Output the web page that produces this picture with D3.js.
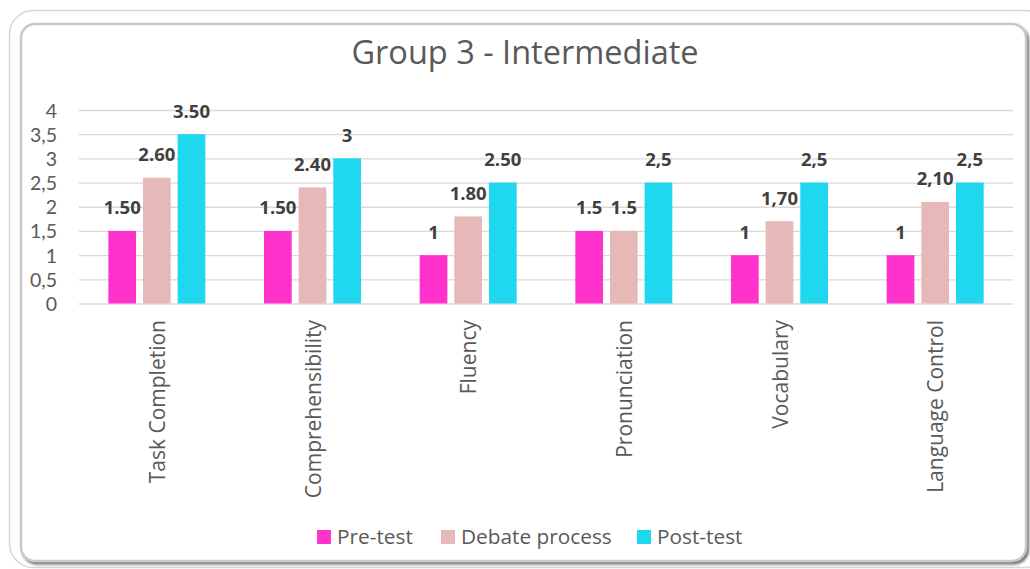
<!DOCTYPE html>
<html>
<head>
<meta charset="utf-8">
<script src="https://cdn.jsdelivr.net/npm/d3@7"></script>
<style>
  html, body { margin: 0; padding: 0; background: #fff; }
  svg { display: block; }
  text { font-family: "Open Sans", Lato, sans-serif; }
</style>
</head>
<body>
<svg id="chart" width="1030" height="569"></svg>
<script>
// Categories and series
const categories = ["Task Completion", "Comprehensibility", "Fluency", "Pronunciation", "Vocabulary", "Language Control"];
const seriesNames = ["Pre-test", "Debate process", "Post-test"];
const preTest = [1.5, 1.5, 1, 1.5, 1, 1];
const debateProcess = [2.6, 2.4, 1.8, 1.5, 1.7, 2.1];
const postTest = [3.5, 3, 2.5, 2.5, 2.5, 2.5];
// Data labels as printed above each bar
const preTestLabels = ["1.50", "1.50", "1", "1.5", "1", "1"];
const debateLabels = ["2.60", "2.40", "1.80", "1.5", "1,70", "2,10"];
const postTestLabels = ["3.50", "3", "2.50", "2,5", "2,5", "2,5"];
const yTicks = [0, 0.5, 1, 1.5, 2, 2.5, 3, 3.5, 4];
const colors = ["#FF33CC", "#E6B8B7", "#1FD7EF"];
const title = "Group 3 - Intermediate";

const seriesValues = [preTest, debateProcess, postTest];
const seriesLabels = [preTestLabels, debateLabels, postTestLabels];

const svg = d3.select("#chart");

// ----- Frame -----
const defs = svg.append("defs");
const sh = defs.append("filter").attr("id", "shadow")
  .attr("x", "-5%").attr("y", "-5%").attr("width", "110%").attr("height", "110%");
sh.append("feDropShadow").attr("dx", 2).attr("dy", 2.5).attr("stdDeviation", 1.2)
  .attr("flood-color", "#6e6e6e").attr("flood-opacity", 0.9);

svg.append("rect")
  .attr("x", 9.5).attr("y", 10.5).attr("width", 1040).attr("height", 557)
  .attr("rx", 24).attr("fill", "#fff")
  .attr("stroke", "#d6d6d6").attr("stroke-width", 1.5);

svg.append("rect")
  .attr("x", 21).attr("y", 24).attr("width", 1005).attr("height", 537)
  .attr("rx", 14).attr("fill", "#fff")
  .attr("stroke", "#c9c9c9").attr("stroke-width", 2.5)
  .attr("filter", "url(#shadow)");

// ----- Scales -----
const margin = { left: 79, right: 1013, top: 110, bottom: 303.5 };
const x0 = d3.scaleBand().domain(categories).range([margin.left, margin.right])
  .paddingInner(0.377).paddingOuter(0.1885);
const x1 = d3.scaleBand().domain(seriesNames).range([0, x0.bandwidth()]).paddingInner(0.2);
const y = d3.scaleLinear().domain([0, 4]).range([margin.bottom, margin.top]);

const locale = d3.formatLocale({ decimal: ",", thousands: ".", grouping: [3], currency: ["", ""] });
const fmt = locale.format("~g");

// ----- Gridlines and y axis -----
const yAxis = d3.axisLeft(y).tickValues(yTicks).tickFormat(fmt)
  .tickSize(-(margin.right - margin.left)).tickPadding(22);
const gy = svg.append("g").attr("transform", `translate(${margin.left},0)`).call(yAxis);
gy.select(".domain").remove();
gy.selectAll(".tick line").attr("stroke", "#d9d9d9").attr("stroke-width", 1.3);
gy.selectAll(".tick text").attr("fill", "#595959").attr("font-size", 19.5)
  .style("font-family", "Lato, sans-serif").attr("dy", "0.36em");

// ----- Bars -----
const groups = svg.append("g").selectAll("g").data(categories).join("g")
  .attr("transform", d => `translate(${x0(d)},0)`);

const cells = (c, i) => seriesNames.map((s, k) => ({ s, k, v: seriesValues[k][i], label: seriesLabels[k][i] }));

groups.selectAll("rect").data(cells).join("rect")
  .attr("x", d => x1(d.s))
  .attr("y", d => y(d.v))
  .attr("width", x1.bandwidth())
  .attr("height", d => y(0) - y(d.v))
  .attr("fill", d => colors[d.k]);

groups.selectAll("text.val").data(cells).join("text").attr("class", "val")
  .attr("x", d => x1(d.s) + x1.bandwidth() / 2)
  .attr("y", d => y(d.v) - 16.5)
  .attr("text-anchor", "middle")
  .attr("font-size", 18.5).attr("font-weight", 700).attr("fill", "#404040")
  .text(d => d.label);

// ----- Category labels (rotated) -----
svg.append("g").selectAll("text").data(categories).join("text")
  .attr("transform", d => `translate(${x0(d) + x0.bandwidth() / 2 + 8},320) rotate(-90)`)
  .attr("text-anchor", "end")
  .attr("font-size", 21).attr("fill", "#595959")
  .text(d => d);

// ----- Title -----
svg.append("text").attr("x", 525).attr("y", 64).attr("text-anchor", "middle")
  .attr("font-size", 32.5).attr("fill", "#595959").text(title);

// ----- Legend -----
const legendX = [317, 441, 637];
const lg = svg.append("g").selectAll("g").data(seriesNames).join("g")
  .attr("transform", (d, i) => `translate(${legendX[i]},530)`);
lg.append("rect").attr("width", 14).attr("height", 14).attr("fill", (d, i) => colors[i]);
lg.append("text").attr("x", 20).attr("y", 14).attr("font-size", 20.8).attr("fill", "#595959").text(d => d);
</script>
</body>
</html>
